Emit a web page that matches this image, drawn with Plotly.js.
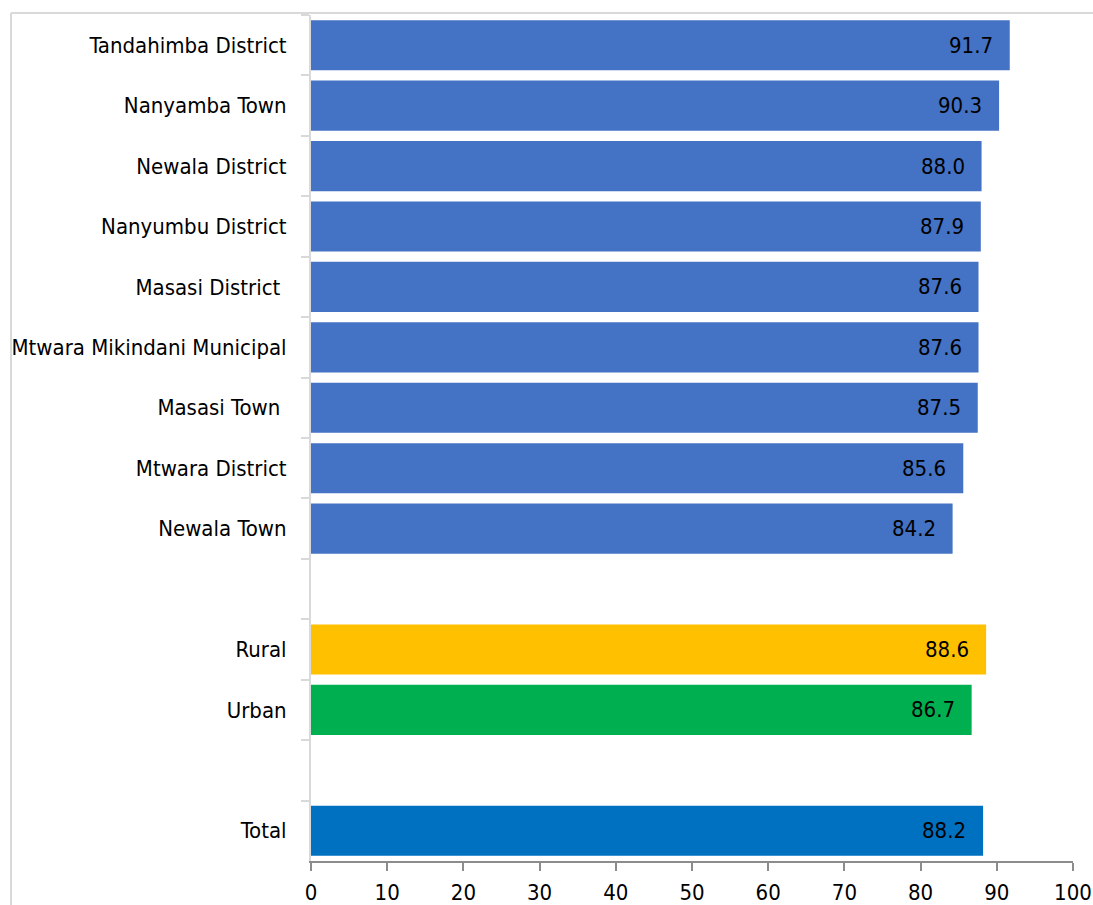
<!DOCTYPE html>
<html>
<head>
<meta charset="utf-8">
<script src="https://cdn.plot.ly/plotly-3.0.1.min.js"></script>
<style>
html,body{margin:0;padding:0;background:#fff;}
#chart{width:1093px;height:905px;}
</style>
</head>
<body>
<div id="chart"></div>
<script>
// Data
const districts = ["Tandahimba District","Nanyamba Town","Newala District","Nanyumbu District","Masasi District\u00a0","Mtwara Mikindani Municipal","Masasi Town\u00a0","Mtwara District","Newala Town"];
const districtValues = [91.7, 90.3, 88.0, 87.9, 87.6, 87.6, 87.5, 85.6, 84.2];
const residence = ["Rural","Urban"];
const residenceValues = [88.6, 86.7];
const totalLabel = ["Total"];
const totalValues = [88.2];
const gapA = "\u2002";
const gapB = "\u2003";
const categoryOrder = [...districts, gapA, ...residence, gapB, ...totalLabel];
const xTicks = [0,10,20,30,40,50,60,70,80,90,100];

const colDistrict = "#4472C4", colRural = "#FFC000", colUrban = "#00B050", colTotal = "#0070C0";
const FONT = "'Liberation Sans Narrow', 'Arial Narrow', 'DejaVu Sans Condensed', 'Liberation Sans', Arial, sans-serif";
const FS = 22;

const cats = [...districts, gapA, ...residence, gapB, ...totalLabel];
const vals = [...districtValues, null, ...residenceValues, null, ...totalValues];
const colors = [...districts.map(()=>colDistrict), colDistrict, colRural, colUrban, colDistrict, colTotal];

const trace = {
  type: "bar",
  orientation: "h",
  y: cats,
  x: vals,
  marker: {color: colors},
  hoverinfo: "none",
  showlegend: false
};

const annotations = [];
cats.forEach((c,i)=>{
  if (vals[i] === null) return;
  annotations.push({
    x: vals[i], y: c, xref: "x", yref: "y",
    text: vals[i].toFixed(1), showarrow: false,
    xanchor: "right", yanchor: "middle", xshift: -15, yshift: 0,
    font: {family: FONT, size: FS, color: "#000"}
  });
});

const shapes = [
  {type:"line", xref:"paper", yref:"paper", x0:-0.3937, x1:-0.3937, y0:1.0025, y1:-0.2, line:{color:"#d9d9d9", width:2}},
  {type:"line", xref:"paper", yref:"paper", x0:-0.3937, x1:1.2, y0:1.0025, y1:1.0025, line:{color:"#d9d9d9", width:2}}
];

const layout = {
  width: 1093, height: 905,
  margin: {l: 311, r: 20, t: 15, b: 44},
  paper_bgcolor: "#fff", plot_bgcolor: "#fff",
  bargap: 0.17,
  font: {family: FONT, size: FS, color: "#000"},
  xaxis: {
    range: [0, 100], tickvals: xTicks, ticktext: xTicks.map(String),
    showgrid: false, zeroline: false,
    showline: true, linecolor: "#8c8c8c", linewidth: 2,
    ticks: "outside", ticklen: 8, tickcolor: "#8c8c8c", tickwidth: 2,
    tickfont: {family: FONT, size: FS, color: "#000"},
    ticklabelstandoff: 3,
    ticklabeloverflow: "allow",
    fixedrange: true
  },
  yaxis: {
    type: "category", categoryorder: "array", categoryarray: categoryOrder,
    autorange: "reversed",
    showgrid: false, zeroline: false,
    showline: true, linecolor: "#d9d9d9", linewidth: 2,
    ticks: "outside", tickson: "boundaries", ticklen: 8, tickcolor: "#d9d9d9", tickwidth: 2,
    tickfont: {family: FONT, size: FS, color: "#000"},
    ticklabelstandoff: 18,
    ticklabeloverflow: "allow",
    fixedrange: true
  },
  annotations: annotations,
  shapes: shapes
};

Plotly.newPlot("chart", [trace], layout, {displayModeBar: false, staticPlot: true});
</script>
</body>
</html>
